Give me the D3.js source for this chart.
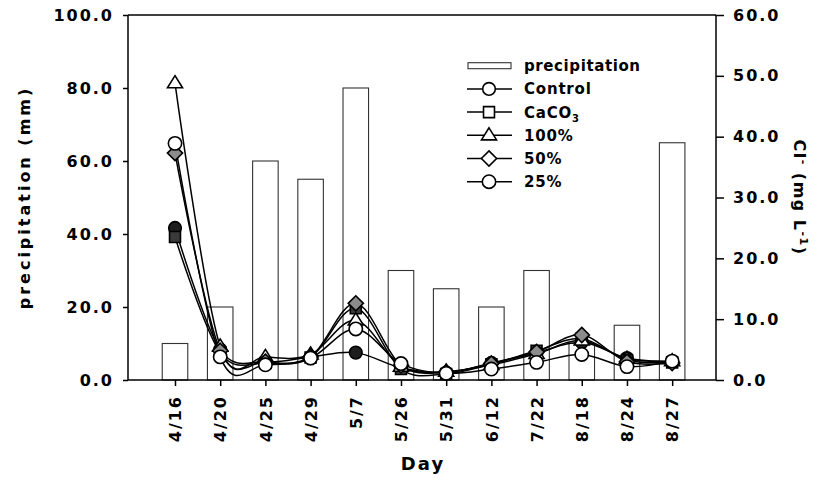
<!DOCTYPE html>
<html>
<head>
<meta charset="utf-8">
<script src="https://cdn.jsdelivr.net/npm/d3@7"></script>
<style>
  body { margin: 0; background: #fff; }
  text { font-family: "DejaVu Sans", sans-serif; font-weight: bold; fill: #000; }
</style>
</head>
<body>
<svg id="chart" width="820" height="479"></svg>
<script>
// Sampling days
const days = ["4/16", "4/20", "4/25", "4/29", "5/7", "5/26", "5/31", "6/12", "7/22", "8/18", "8/24", "8/27"];

// Precipitation (mm), left axis
const precipitation = [10, 20, 60, 55, 80, 30, 25, 20, 30, 10, 15, 65];

// Cl- concentration (mg L-1), right axis
const control = [25.0, 5.0, 3.0, 3.8, 4.5, 2.0, 1.2, 2.8, 4.5, 6.2, 3.6, 3.0];
const caco3   = [23.5, 4.5, 2.8, 3.7, 11.8, 1.8, 1.0, 2.6, 4.8, 6.8, 3.3, 2.9];
const pct100  = [48.8, 5.5, 3.8, 4.2, 9.8, 2.2, 1.4, 2.5, 4.3, 6.5, 3.5, 3.1];
const pct50   = [37.3, 4.8, 3.0, 3.8, 12.6, 2.4, 1.3, 2.7, 4.6, 7.4, 3.0, 2.8];
const pct25   = [38.9, 3.8, 2.5, 3.6, 8.4, 2.7, 1.1, 1.8, 2.9, 4.2, 2.2, 3.1];

// Axis ticks
const leftTicks = [0, 20, 40, 60, 80, 100];
const rightTicks = [0, 10, 20, 30, 40, 50, 60];

const svg = d3.select("#chart");
const frame = { left: 128, right: 716, top: 15, bottom: 380 };

const x = d3.scaleLinear().domain([-1.04, 11.97]).range([frame.left, frame.right]);
const yL = d3.scaleLinear().domain([0, 100]).range([frame.bottom, frame.top]);
const yR = d3.scaleLinear().domain([0, 60]).range([frame.bottom, frame.top]);
const step = x(1) - x(0);
const barW = step * 0.565;

const fmt = d3.format(".1f");

// Precipitation bars
svg.append("g").selectAll("rect")
  .data(precipitation)
  .join("rect")
  .attr("x", (d, i) => x(i) - barW / 2)
  .attr("y", d => yL(d))
  .attr("width", barW)
  .attr("height", d => yL(0) - yL(d))
  .attr("fill", "#fff")
  .attr("stroke", "#333")
  .attr("stroke-width", 1.1);

// Cl- series: each with its own marker style
const diamond = { draw(ctx, size) { const r = Math.sqrt(size) / 2 * Math.SQRT2; ctx.moveTo(0, -r); ctx.lineTo(r, 0); ctx.lineTo(0, r); ctx.lineTo(-r, 0); ctx.closePath(); } };
const wideTriangle = { draw(ctx, size) { const w = Math.sqrt(size) * 1.55, h = w * 0.8; ctx.moveTo(0, -h * 0.62); ctx.lineTo(w / 2, h * 0.38); ctx.lineTo(-w / 2, h * 0.38); ctx.closePath(); } };

const series = [
  { name: "Control", values: control, type: d3.symbolCircle,  size: 125, fill: "#1e1e1e" },
  { name: "CaCO3",   values: caco3,   type: d3.symbolSquare,  size: 120, fill: "#3a3a3a" },
  { name: "100%",    values: pct100,  type: wideTriangle,     size: 95,  fill: "#fff" },
  { name: "50%",     values: pct50,   type: diamond,          size: 115, fill: "#8c8c8c" },
  { name: "25%",     values: pct25,   type: d3.symbolCircle,  size: 140, fill: "#fff" }
];

// Smoothed connecting curves
const line = d3.line()
  .x((d, i) => x(i))
  .y(d => yR(d))
  .curve(d3.curveCatmullRom.alpha(0));

const linesG = svg.append("g");
series.forEach(s => {
  linesG.append("path")
    .attr("d", line(s.values))
    .attr("fill", "none")
    .attr("stroke", "#000")
    .attr("stroke-width", 1.5);
});

const marksG = svg.append("g");
series.forEach(s => {
  marksG.append("g").selectAll("path")
    .data(s.values)
    .join("path")
    .attr("transform", (d, i) => `translate(${x(i)},${yR(d)})`)
    .attr("d", d3.symbol().type(s.type).size(s.size))
    .attr("fill", s.fill)
    .attr("stroke", "#000")
    .attr("stroke-width", 1.6);
});

// Axes
const axisStyle = g => {
  g.select(".domain").remove();
  g.selectAll(".tick line").attr("stroke", "#000").attr("stroke-width", 1.5);
  g.selectAll(".tick text").attr("font-size", 16).attr("letter-spacing", 2)
    .style("font-family", '"DejaVu Sans", sans-serif').style("font-weight", "bold");
};

svg.append("g")
  .attr("transform", `translate(${frame.left},0)`)
  .call(d3.axisLeft(yL).tickValues(leftTicks).tickFormat(fmt).tickSize(5).tickPadding(9))
  .call(axisStyle);

svg.append("g")
  .attr("transform", `translate(${frame.right},0)`)
  .call(d3.axisRight(yR).tickValues(rightTicks).tickFormat(fmt).tickSize(8).tickPadding(9))
  .call(axisStyle);

svg.append("g")
  .attr("transform", `translate(0,${frame.bottom})`)
  .call(d3.axisBottom(x).tickValues(d3.range(days.length)).tickFormat(i => days[i]).tickSize(6))
  .call(axisStyle)
  .call(g => g.selectAll(".tick text")
    .attr("transform", "rotate(-90)")
    .attr("text-anchor", "end")
    .attr("x", -15)
    .attr("y", 0)
    .attr("dy", "0.36em"));

// Plot frame lines
const frameG = svg.append("g").attr("stroke", "#000").attr("stroke-width", 1.5);
frameG.append("line").attr("x1", x.range()[0]).attr("x2", x.range()[1]).attr("y1", yL(0)).attr("y2", yL(0));
frameG.append("line").attr("x1", x.range()[0]).attr("x2", x.range()[1]).attr("y1", yL(100)).attr("y2", yL(100));
frameG.append("line").attr("x1", x.range()[0]).attr("x2", x.range()[0]).attr("y1", yL(0)).attr("y2", yL(100));
frameG.append("line").attr("x1", x.range()[1]).attr("x2", x.range()[1]).attr("y1", yL(0)).attr("y2", yL(100));

// Axis titles
svg.append("text")
  .attr("transform", `translate(30,${(frame.top + frame.bottom) / 2}) rotate(-90)`)
  .attr("text-anchor", "middle")
  .attr("font-size", 16)
  .attr("letter-spacing", 3)
  .text("precipitation (mm)");

const rTitle = svg.append("text")
  .attr("transform", `translate(794,${(frame.top + frame.bottom) / 2}) rotate(90)`)
  .attr("text-anchor", "middle")
  .attr("font-size", 16)
  .attr("letter-spacing", 1.5);
rTitle.append("tspan").text("Cl");
rTitle.append("tspan").attr("dy", -6).attr("font-size", 11).text("-");
rTitle.append("tspan").attr("dy", 6).text(" (mg L");
rTitle.append("tspan").attr("dy", -6).attr("font-size", 11).text("-1");
rTitle.append("tspan").attr("dy", 6).text(")");

svg.append("text")
  .attr("x", (frame.left + frame.right) / 2 + 1)
  .attr("y", 470)
  .attr("text-anchor", "middle")
  .attr("font-size", 18)
  .attr("letter-spacing", 2)
  .text("Day");

// Legend
const leg = svg.append("g");
const legX0 = 467, legX1 = 512, legMid = 489, legText = 524;
const legRows = d3.range(6).map(k => 65.7 + k * 23.2);

leg.append("rect")
  .attr("x", legX0 + 1).attr("y", legRows[0] - 3)
  .attr("width", legX1 - legX0 - 2).attr("height", 6)
  .attr("fill", "#fff").attr("stroke", "#333").attr("stroke-width", 1.1);
leg.append("text").attr("x", legText).attr("y", legRows[0]).attr("dy", "0.36em")
  .attr("font-size", 15).attr("letter-spacing", 0.6).text("precipitation");

series.forEach((s, k) => {
  const yy = legRows[k + 1];
  leg.append("line").attr("x1", legX0).attr("x2", legX1).attr("y1", yy).attr("y2", yy)
    .attr("stroke", "#000").attr("stroke-width", 1.5);
  leg.append("path")
    .attr("transform", `translate(${legMid},${yy})`)
    .attr("d", d3.symbol().type(s.type).size(s.size))
    .attr("fill", "#fff").attr("stroke", "#000").attr("stroke-width", 1.6);
  const t = leg.append("text").attr("x", legText).attr("y", yy).attr("dy", "0.36em")
    .attr("font-size", 15).attr("letter-spacing", 0.8);
  if (s.name === "CaCO3") {
    t.append("tspan").text("CaCO");
    t.append("tspan").attr("dy", 4).attr("font-size", 10).text("3");
  } else {
    t.text(s.name);
  }
});
</script>
</body>
</html>
